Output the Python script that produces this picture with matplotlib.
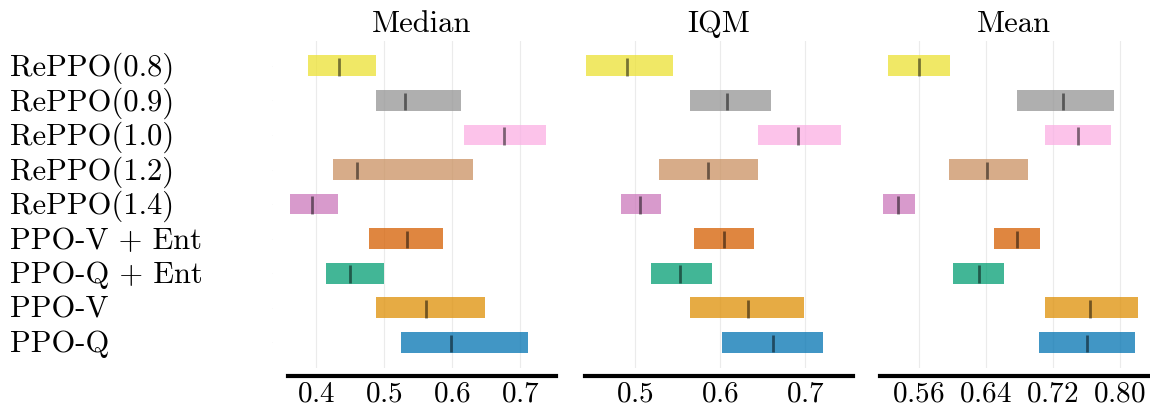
import matplotlib
matplotlib.use("Agg")
import matplotlib.pyplot as plt
import matplotlib.transforms as mtransforms

plt.rcParams['font.family'] = 'serif'
plt.rcParams['font.serif'] = ['cmr10']
plt.rcParams['mathtext.fontset'] = 'cm'
plt.rcParams['axes.formatter.use_mathtext'] = True

# algoritmos de abajo hacia arriba
algorithms = ['PPO-Q', 'PPO-V', 'PPO-Q + Ent', 'PPO-V + Ent', 'RePPO(1.4)',
              'RePPO(1.2)', 'RePPO(1.0)', 'RePPO(0.9)', 'RePPO(0.8)']
colors = ['#0173b2', '#de8f05', '#029e73', '#d55e00', '#cc78bc',
          '#ca9161', '#fbafe4', '#949494', '#ece133']
metric_names = ['Median', 'IQM', 'Mean']

# (lower, upper, point) per metric, same order as algorithms
median_lo = [0.525, 0.487, 0.414, 0.477, 0.361, 0.425, 0.617, 0.488, 0.388]
median_hi = [0.712, 0.649, 0.500, 0.586, 0.431, 0.630, 0.738, 0.613, 0.487]
median_pt = [0.598, 0.561, 0.450, 0.534, 0.393, 0.460, 0.677, 0.531, 0.433]

iqm_lo = [0.602, 0.565, 0.519, 0.570, 0.484, 0.529, 0.645, 0.565, 0.443]
iqm_hi = [0.721, 0.699, 0.591, 0.640, 0.531, 0.645, 0.742, 0.660, 0.545]
iqm_pt = [0.662, 0.633, 0.553, 0.605, 0.506, 0.586, 0.692, 0.608, 0.491]

mean_lo = [0.704, 0.711, 0.601, 0.650, 0.518, 0.596, 0.711, 0.678, 0.523]
mean_hi = [0.818, 0.822, 0.662, 0.705, 0.556, 0.691, 0.790, 0.793, 0.598]
mean_pt = [0.761, 0.765, 0.632, 0.678, 0.536, 0.642, 0.750, 0.732, 0.5605]

lows = [median_lo, iqm_lo, mean_lo]
highs = [median_hi, iqm_hi, mean_hi]
points = [median_pt, iqm_pt, mean_pt]

xlims = [(0.358, 0.753), (0.442, 0.756), (0.514, 0.834)]
xticks = [[0.4, 0.5, 0.6, 0.7], [0.5, 0.6, 0.7], [0.56, 0.64, 0.72, 0.80]]

W, H = 1150, 406
fig = plt.figure(figsize=(W / 100, H / 100), dpi=100)
lefts = [288, 585, 880]
width = 268
top_px, bot_px = 41.6, 368.6
h = 0.6

for idx, metric in enumerate(metric_names):
    ax = fig.add_axes([lefts[idx] / W, (H - bot_px) / H, width / W, (bot_px - top_px) / H])
    for i, alg in enumerate(algorithms):
        lo, hi, pt = lows[idx][i], highs[idx][i], points[idx][i]
        ax.barh(y=i, width=hi - lo, height=h, left=lo, color=colors[i], alpha=0.75)
        ax.vlines(x=pt, ymin=i - 7.5 * h / 16, ymax=i + 6 * h / 16,
                  color='k', alpha=0.5, linewidth=2)
    ax.set_xlim(*xlims[idx])
    ax.set_ylim(-0.73, 8.73)
    ax.set_xticks(xticks[idx])
    if idx == 0:
        ax.set_yticks(list(range(len(algorithms))))
        ax.set_yticklabels([])
        trans = mtransforms.blended_transform_factory(fig.transFigure, ax.transData)
        for i, alg in enumerate(algorithms):
            ax.text(10 / W, i - 0.04, alg, transform=trans, ha='left', va='center',
                    fontsize=22, clip_on=False)
    else:
        ax.set_yticks([])
    ax.set_title(metric, fontsize=22, pad=7)
    ax.spines['top'].set_visible(False)
    ax.spines['right'].set_visible(False)
    ax.spines['left'].set_visible(False)
    ax.spines['bottom'].set_linewidth(3)
    ax.spines['bottom'].set_position(('outward', 6))
    ax.spines['left'].set_position(('outward', 16 * 0.72))
    ax.tick_params(length=0.1, width=0.1, labelsize=21, pad=3)
    ax.grid(True, axis='x', alpha=0.25)
    ax.set_axisbelow(True)

fig.savefig('out.png', dpi=100)
